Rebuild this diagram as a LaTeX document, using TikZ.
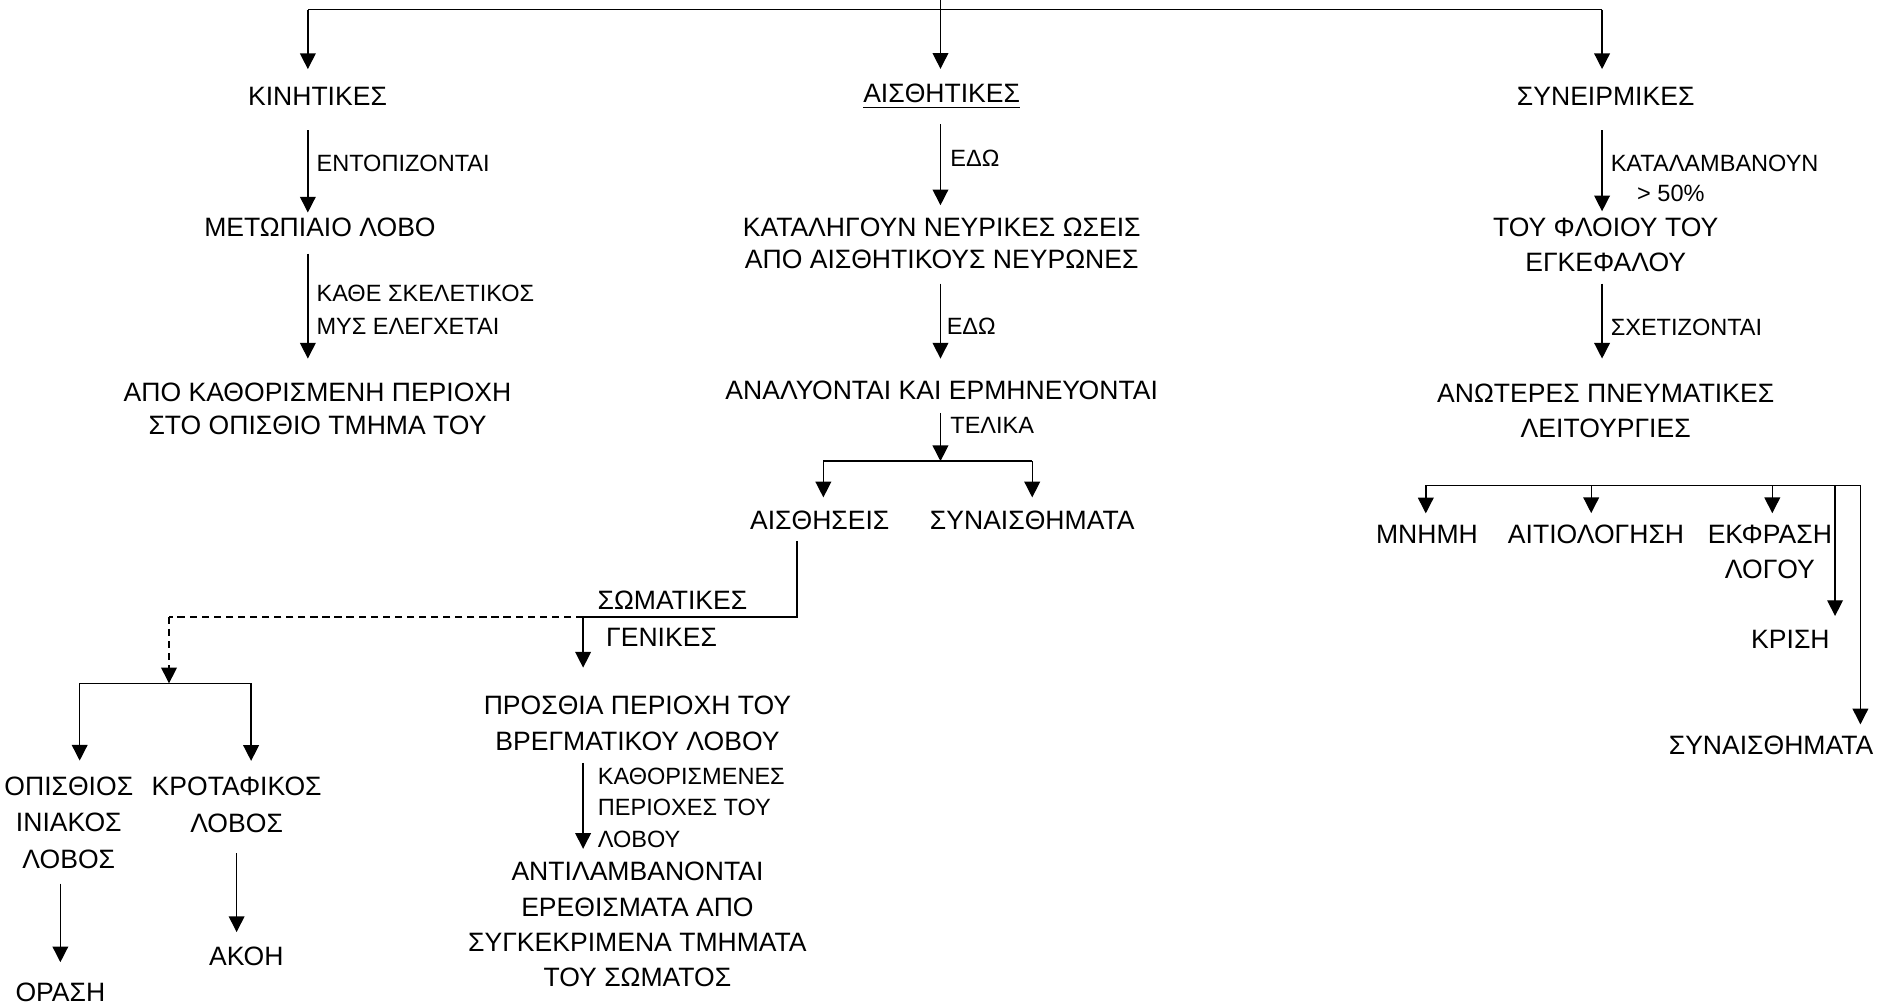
\documentclass[tikz,border=0pt]{standalone}
\usepackage{fontspec}
\setmainfont{Liberation Sans}
\usetikzlibrary{arrows.meta,calc}
\begin{document}
\begin{tikzpicture}[x=1pt,y=-1pt,
  txt/.style={inner sep=0pt, align=center, font=\fontsize{22}{29}\selectfont},
  lbl/.style={inner sep=0pt, anchor=west, align=left, font=\fontsize{19.5}{26}\selectfont},
  ln/.style={line width=1.15pt},
  arr/.style={line width=1.15pt, -{Triangle[length=13pt,width=13pt]}},
  dsh/.style={dash pattern=on 6pt off 4pt},
]
\useasboundingbox (0,0) rectangle (1568,832);

% ---------- top ----------
\coordinate (top) at (779,0);
\coordinate (tl) at (255,8);
\coordinate (tm) at (779,8);
\coordinate (tr) at (1327,8);

% ---------- nodes: column 1 ----------
\node[txt] (kin) at (263,80) {ΚΙΝΗΤΙΚΕΣ};
\node[txt] (met) at (265,188) {ΜΕΤΩΠΙΑΙΟ ΛΟΒΟ};
\node[txt, font=\fontsize{22}{27}\selectfont] (apo) at (263,338.5) {ΑΠΟ ΚΑΘΟΡΙΣΜΕΝΗ ΠΕΡΙΟΧΗ\\ΣΤΟ ΟΠΙΣΘΙΟ ΤΜΗΜΑ ΤΟΥ};
\node[lbl] (l1) at (262,135) {ΕΝΤΟΠΙΖΟΝΤΑΙ};
\node[lbl, font=\fontsize{19.5}{27}\selectfont] (l2) at (262,256.5) {ΚΑΘΕ ΣΚΕΛΕΤΙΚΟΣ\\ΜΥΣ ΕΛΕΓΧΕΤΑΙ};

% ---------- nodes: column 2 ----------
\node[txt] (ais) at (780,77) {ΑΙΣΘΗΤΙΚΕΣ};
\node[txt, font=\fontsize{22}{27}\selectfont] (kat) at (780,201.5) {ΚΑΤΑΛΗΓΟΥΝ ΝΕΥΡΙΚΕΣ ΩΣΕΙΣ\\ΑΠΟ ΑΙΣΘΗΤΙΚΟΥΣ ΝΕΥΡΩΝΕΣ};
\node[txt] (ana) at (780,323) {ΑΝΑΛΥΟΝΤΑΙ ΚΑΙ ΕΡΜΗΝΕΥΟΝΤΑΙ};
\node[lbl] (l3) at (787,131) {ΕΔΩ};
\node[lbl] (l4) at (784,270) {ΕΔΩ};
\node[lbl] (l5) at (787,352) {ΤΕΛΙΚΑ};
\node[txt] (aisth) at (679,431) {ΑΙΣΘΗΣΕΙΣ};
\node[txt] (syn1) at (855,431) {ΣΥΝΑΙΣΘΗΜΑΤΑ};
\node[txt] (som) at (557,497) {ΣΩΜΑΤΙΚΕΣ};
\node[txt] (gen) at (548,528) {ΓΕΝΙΚΕΣ};
\node[txt, font=\fontsize{22}{30}\selectfont] (pros) at (528,599) {ΠΡΟΣΘΙΑ ΠΕΡΙΟΧΗ ΤΟΥ\\ΒΡΕΓΜΑΤΙΚΟΥ ΛΟΒΟΥ};
\node[lbl, font=\fontsize{19.5}{26}\selectfont] (l6) at (495,669) {ΚΑΘΟΡΙΣΜΕΝΕΣ\\ΠΕΡΙΟΧΕΣ ΤΟΥ\\ΛΟΒΟΥ};
\node[txt, font=\fontsize{22}{29.3}\selectfont] (ant) at (528,766) {ΑΝΤΙΛΑΜΒΑΝΟΝΤΑΙ\\ΕΡΕΘΙΣΜΑΤΑ ΑΠΟ\\ΣΥΓΚΕΚΡΙΜΕΝΑ ΤΜΗΜΑΤΑ\\ΤΟΥ ΣΩΜΑΤΟΣ};
\node[txt, font=\fontsize{22}{30.5}\selectfont] (op) at (57,681.5) {ΟΠΙΣΘΙΟΣ\\ΙΝΙΑΚΟΣ\\ΛΟΒΟΣ};
\node[txt, font=\fontsize{22}{30.5}\selectfont] (krot) at (196,666.5) {ΚΡΟΤΑΦΙΚΟΣ\\ΛΟΒΟΣ};
\node[txt] (orasi) at (50,822) {ΟΡΑΣΗ};
\node[txt] (akoi) at (204,792) {ΑΚΟΗ};

% ---------- nodes: column 3 ----------
\node[txt] (syne) at (1330,80) {ΣΥΝΕΙΡΜΙΚΕΣ};
\node[lbl] (l7) at (1334,135) {ΚΑΤΑΛΑΜΒΑΝΟΥΝ};
\node[inner sep=0pt, font=\fontsize{19.5}{26}\selectfont] (l8) at (1384,160) {> 50\%};
\node[txt] (tou) at (1330,202.5) {ΤΟΥ ΦΛΟΙΟΥ ΤΟΥ\\ΕΓΚΕΦΑΛΟΥ};
\node[lbl] (l9) at (1334,271) {ΣΧΕΤΙΖΟΝΤΑΙ};
\node[txt] (anot) at (1330,340.5) {ΑΝΩΤΕΡΕΣ ΠΝΕΥΜΑΤΙΚΕΣ\\ΛΕΙΤΟΥΡΓΙΕΣ};
\node[txt] (mnimi) at (1182,443) {ΜΝΗΜΗ};
\node[txt] (aitio) at (1322,443) {ΑΙΤΙΟΛΟΓΗΣΗ};
\node[txt] (ekfr) at (1466,457.5) {ΕΚΦΡΑΣΗ\\ΛΟΓΟΥ};
\node[txt] (krisi) at (1483,530) {ΚΡΙΣΗ};
\node[txt] (syn2) at (1467,617) {ΣΥΝΑΙΣΘΗΜΑΤΑ};

% ---------- helper coordinates ----------
\coordinate (b1) at (779,382);
\coordinate (b1l) at (682,382);
\coordinate (b1r) at (855,382);
\coordinate (s1) at (660,511);
\coordinate (s2) at (483,511);
\coordinate (s3) at (140,511);
\coordinate (s4) at (140,566);
\coordinate (brl) at (66,566);
\coordinate (brr) at (208,566);
\coordinate (r1) at (1181,402);
\coordinate (r2) at (1318,402);
\coordinate (r3) at (1468,402);
\coordinate (r4) at (1520,402);
\coordinate (r5) at (1541,402);

% ---------- connectors: top ----------
\draw[ln] (tl) -- (tr);
\draw[arr, shorten >=12pt] (top) -- (ais.north -| top);
\draw[arr, shorten >=15pt] (tl) -- (kin.north -| tl);
\draw[arr, shorten >=15pt] (tr) -- (syne.north -| tr);

% column 1
\draw[arr, shorten <=20pt, shorten >=4pt] (kin.south -| tl) -- (met.north -| tl);
\draw[arr, shorten <=14pt, shorten >=20pt] (met.south -| tl) -- (apo.north -| tl);

% column 2
\draw[line width=1.1pt] ([yshift=-4pt]ais.south west) -- ([yshift=-4pt]ais.south east);
\draw[arr, shorten <=18pt, shorten >=10pt] (ais.south -| top) -- (kat.north -| top);
\draw[arr, shorten <=12pt, shorten >=18pt] (kat.south -| top) -- (ana.north -| top);
\draw[arr, shorten <=11pt] (ana.south -| top) -- (b1);
\draw[ln] (b1l) -- (b1r);
\draw[arr, shorten >=11pt] (b1l) -- (aisth.north -| b1l);
\draw[arr, shorten >=11pt] (b1r) -- (syn1.north -| b1r);
\draw[ln, shorten <=9pt] (aisth.south -| s1) -- (s1) -- (s2);
\draw[ln, dsh] (s2) -- (s3);
\draw[arr, dsh] (s3) -- (s4);
\draw[ln] (brl) -- (brr);
\draw[arr, shorten >=13pt] (brl) -- (op.north -| brl);
\draw[arr, shorten >=13pt] (brr) -- (krot.north -| brr);
\draw[arr, shorten <=12pt, shorten >=17pt] (orasi.north |- op.south) -- (orasi.north);
\draw[arr, shorten <=17pt, shorten >=12pt] (krot.south) -- (krot.south |- akoi.north);
\draw[arr, shorten >=23pt] (s2) -- (pros.north -| s2);
\draw[arr, shorten <=10pt, shorten >=11pt] (pros.south -| s2) -- (ant.north -| s2);

% column 3
\draw[arr, shorten <=20pt, shorten >=5pt] (syne.south -| tr) -- (tou.north -| tr);
\draw[arr, shorten <=10pt, shorten >=21pt] (tou.south -| tr) -- (anot.north -| tr);
\draw[ln] (r1) -- (r5);
\draw[arr, shorten >=10pt] (r1) -- (mnimi.north -| r1);
\draw[arr, shorten >=10pt] (r2) -- (aitio.north -| r2);
\draw[arr, shorten >=10pt] (r3) -- (ekfr.north -| r3);
\draw[arr, shorten >=12pt] (r4) -- (krisi.north -| r4);
\draw[arr, shorten >=9pt] (r5) -- (syn2.north -| r5);
\end{tikzpicture}
\end{document}
